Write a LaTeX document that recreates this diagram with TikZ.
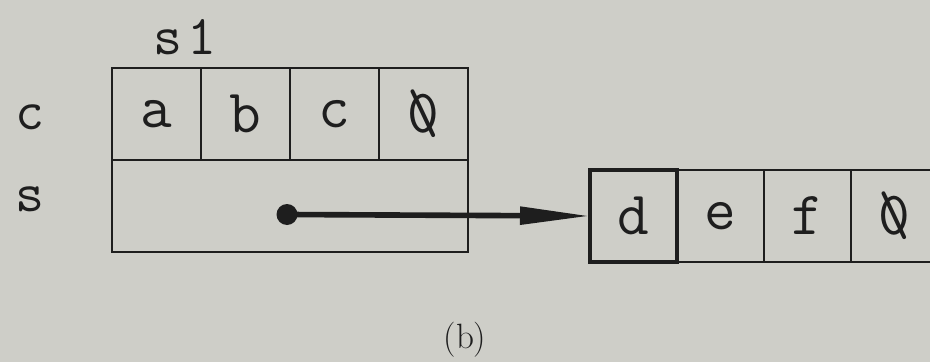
\documentclass[tikz,border=0pt]{standalone}
\usetikzlibrary{positioning, arrows.meta}
\definecolor{paper}{RGB}{206, 206, 200}
\definecolor{inkdark}{RGB}{30, 30, 30}

\tikzset{
    cell/.style={draw=inkdark, line width=1.5pt, outer sep=0pt, inner sep=0pt,
        minimum width=1.78cm, minimum height=1.84cm,
        font=\ttfamily\fontsize{35}{35}\selectfont, text=inkdark},
    rcell/.style={cell, minimum width=1.74cm},
    label/.style={font=\ttfamily\fontsize{32}{32}\selectfont, text=inkdark},
    pointer/.style={draw=inkdark, line width=3.2pt, -{Triangle[length=1.4cm, width=0.34cm]}},
    ptrdot/.style={circle, fill=inkdark, inner sep=0pt, minimum size=0.42cm}
}
\newcommand{\nulchar}{\rlap{\textbackslash}0}

\begin{document}
\begin{tikzpicture}

        \clip (0,0) rectangle (18.6,7.24);
        \fill[paper] (0,0) rectangle (18.6,7.24);

        % struct s1
        \node[label] (s1name) at (3.7,6.5) {s\hspace{0.1em}1};
        \node[label] (clabel) at (0.6,4.9) {c};
        \node[label] (slabel) at (0.6,3.25) {s};

        \node[cell] (ca) at (3.13,4.96) {a};
        \node[cell, right=0pt of ca] (cb) {b};
        \node[cell, right=0pt of cb] (cc) {c};
        \node[cell, right=0pt of cc] (cnul) {\nulchar};
        \node[cell, minimum width=7.12cm, anchor=north west] (sbox) at (ca.south west) {};

        % string pointed to
        \node[rcell, line width=2.6pt] (rd) at (12.67,2.92) {d};
        \node[rcell, right=0pt of rd] (re) {e};
        \node[rcell, right=0pt of re] (rf) {f};
        \node[rcell, right=0pt of rf] (rnul) {\nulchar};

        % pointer
        \node[ptrdot] (dot) at (5.74,2.95) {};
        \draw[pointer] (dot.center) -- (rd.west);

        \node[font=\fontsize{20}{20}\selectfont, text=inkdark] (caption) at (9.3,0.45) {(b)};

    \end{tikzpicture}
\end{document}
